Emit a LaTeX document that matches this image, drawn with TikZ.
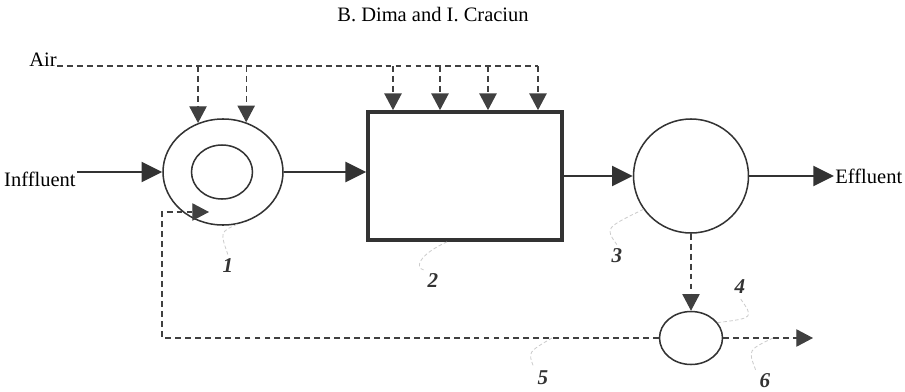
\documentclass[tikz,border=0pt]{standalone}
\usepackage{fontspec}
\setmainfont{Liberation Serif}
\usetikzlibrary{arrows.meta,shapes.geometric}

\begin{document}
\begin{tikzpicture}[x=0.03cm, y=-0.03cm, font=\fontsize{17.5}{20}\selectfont,
    flow/.style={-{Triangle[length=0.62cm, width=0.6cm]}, line width=2pt, draw=black!80},
    dashline/.style={line width=1pt, draw=black!75, dash pattern=on 5pt off 3.5pt},
    dasharrow/.style={dashline, -{Triangle[length=0.5cm, width=0.52cm]}},
    tank/.style={ellipse, draw=black!80, line width=1.3pt, inner sep=0pt},
    leader/.style={gray!40, densely dashed, line width=0.7pt},
    tag/.style={font=\fontsize{18}{20}\selectfont\itshape\bfseries, text=black!80}]
    \useasboundingbox (0,0) rectangle (905,391);

    % units
    \node[tank, minimum width=3.6cm, minimum height=3.18cm] (aer) at (223,172) {};
    \node[tank, minimum width=1.83cm, minimum height=1.62cm] (aerin) at (222,172) {};
    \node[draw=black!80, line width=3.2pt, minimum width=5.82cm, minimum height=3.84cm,
          inner sep=0pt] (reactor) at (465,176) {};
    \node[tank, minimum width=3.45cm, minimum height=3.42cm] (settler) at (691,176) {};
    \node[tank, minimum width=1.89cm, minimum height=1.59cm] (thick) at (691,338) {};

    % texts
    \node (title) at (433,15) {B. Dima and I. Craciun};
    \node[anchor=base east, inner sep=0pt] (air) at (57,66) {Air};
    \node[anchor=east, inner sep=1pt] (infl) at (77,179) {Inffluent};
    \node[anchor=west, inner sep=1pt] (effl) at (834,176) {Effluent};

    % main line
    \draw[flow] (aer.west -| infl.east) -- (aer.west);
    \draw[flow] (aer.east) -- (aer.east -| reactor.west);
    \draw[flow] (reactor.east) -- (settler.west);
    \draw[flow] (settler.east) -- (settler.east -| effl.west);

    % air
    \coordinate (airend) at (538,66);
    \draw[dashline] (air.base east) -- (airend);
    \foreach \a in {117,65}
        \draw[dasharrow] (air.base east -| aer.\a) -- (aer.\a);
    \foreach \x in {393,440,488,538} {
        \coordinate (d\x) at (\x,66);
        \draw[dasharrow] (d\x) -- (d\x |- reactor.north);
    }

    % sludge
    \coordinate (rcorner) at (162,212);
    \coordinate (rin) at (209,212);
    \coordinate (waste) at (813,338);
    \draw[dasharrow] (settler.south) -- (thick.north);
    \draw[dasharrow] (thick.west) -| (rcorner) -- (rin);
    \draw[dasharrow] (thick.east) -- (waste);

    % numbers
    \node[tag] (n1) at (228,266) {1};
    \node[tag] (n2) at (433,281) {2};
    \node[tag] (n3) at (617,256) {3};
    \node[tag] (n4) at (740,287) {4};
    \node[tag] (n5) at (543,378) {5};
    \node[tag] (n6) at (765,381) {6};
    \coordinate (r5) at (552,338);
    \coordinate (r6) at (773,338);
    \draw[leader] (aer.-75) .. controls (220,232) .. (n1.north);
    \draw[leader] ([xshift=-0.54cm]reactor.south) .. controls (418,255) and (415,268) .. (n2.north west);
    \draw[leader] (settler.215) .. controls (605,228) .. (n3.north);
    \draw[leader] (thick.30) .. controls (754,318) .. (n4.south);
    \draw[leader] (r5) .. controls (528,352) .. (n5.north west);
    \draw[leader] (r6) .. controls (748,350) .. (n6.north west);
\end{tikzpicture}
\end{document}
